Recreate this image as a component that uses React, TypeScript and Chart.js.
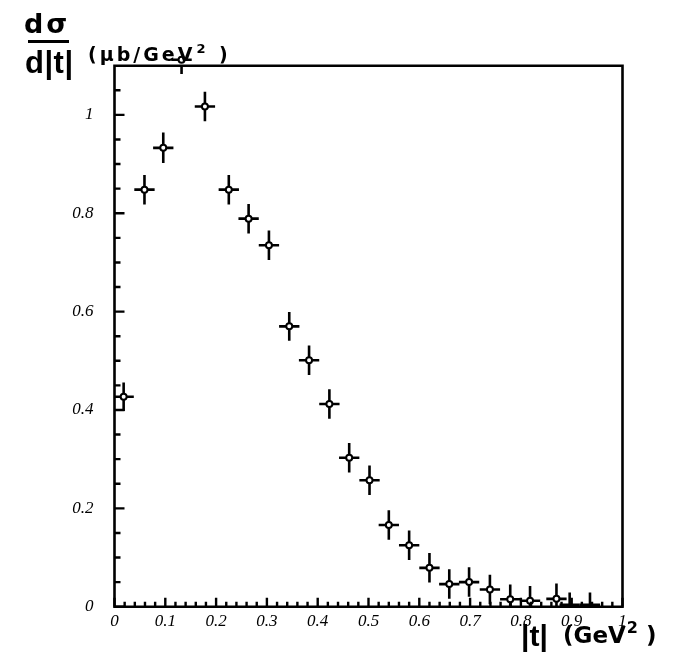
import React, { useEffect, useRef } from 'react';
import { Chart, registerables } from 'chart.js';

Chart.register(...registerables);

// |t| bin centres (GeV^2)
const tValues = [0.018, 0.059, 0.096, 0.132, 0.178, 0.225, 0.264, 0.304, 0.344, 0.383, 0.423, 0.462, 0.502, 0.540, 0.580, 0.620, 0.659, 0.698, 0.739, 0.779, 0.818, 0.870, 0.896, 0.936];
// dσ/d|t| (μb/GeV^2)
const dsigma = [0.427, 0.848, 0.933, 1.112, 1.017, 0.848, 0.789, 0.735, 0.570, 0.501, 0.412, 0.303, 0.257, 0.166, 0.125, 0.079, 0.046, 0.050, 0.035, 0.015, 0.012, 0.016, 0.004, 0.004];
// half bin widths
const tErr = [0.02, 0.02, 0.02, 0.02, 0.02, 0.02, 0.02, 0.02, 0.02, 0.02, 0.02, 0.02, 0.02, 0.02, 0.02, 0.02, 0.02, 0.02, 0.02, 0.02, 0.02, 0.02, 0.02, 0.02];
// statistical errors
const dsigmaErr = [0.029, 0.030, 0.031, 0.029, 0.030, 0.030, 0.030, 0.030, 0.029, 0.030, 0.030, 0.030, 0.030, 0.030, 0.030, 0.030, 0.030, 0.030, 0.030, 0.030, 0.030, 0.031, 0.025, 0.025];

const xTickValues = [0, 0.1, 0.2, 0.3, 0.4, 0.5, 0.6, 0.7, 0.8, 0.9, 1];
const xTickLabels = ['0', '0.1', '0.2', '0.3', '0.4', '0.5', '0.6', '0.7', '0.8', '0.9', '1'];
const yTickValues = [0, 0.2, 0.4, 0.6, 0.8, 1];
const yTickLabels = ['0', '0.2', '0.4', '0.6', '0.8', '1'];
const xMinorStep = 0.02;
const yMinorStep = 0.05;

const X_MIN = 0;
const X_MAX = 1;
const Y_MIN = 0;
const Y_MAX = 1.1;

function drawText(ctx: any, text: string, x: number, y: number, spacing: number) {
  ctx.letterSpacing = spacing + 'px';
  ctx.fillText(text, x, y);
  const w = ctx.measureText(text).width;
  ctx.letterSpacing = '0px';
  return w;
}

const errorBarsPlugin = {
  id: 'errorBars',
  beforeDatasetsDraw(chart: any) {
    const { ctx, chartArea } = chart;
    const xs = chart.scales.x;
    const ys = chart.scales.y;
    ctx.save();
    ctx.strokeStyle = '#000';
    ctx.lineWidth = 2.6;
    ctx.lineCap = 'butt';
    for (let i = 0; i < tValues.length; i++) {
      const px = xs.getPixelForValue(tValues[i]);
      const py = ys.getPixelForValue(dsigma[i]);
      const x0 = xs.getPixelForValue(Math.max(X_MIN, tValues[i] - tErr[i]));
      const x1 = xs.getPixelForValue(tValues[i] + tErr[i]);
      let y0 = ys.getPixelForValue(dsigma[i] + dsigmaErr[i]);
      let y1 = ys.getPixelForValue(dsigma[i] - dsigmaErr[i]);
      y0 = Math.max(y0, chartArea.top);
      y1 = Math.min(y1, chartArea.bottom);
      ctx.beginPath();
      ctx.moveTo(x0, py);
      ctx.lineTo(x1, py);
      if (y1 > y0) {
        ctx.moveTo(px, y0);
        ctx.lineTo(px, y1);
      }
      ctx.stroke();
    }
    ctx.restore();
  },
  afterDatasetsDraw(chart: any) {
    const { ctx, chartArea } = chart;
    const xs = chart.scales.x;
    const ys = chart.scales.y;
    const { left, right, top, bottom } = chartArea;
    ctx.save();
    // markers that lie above the frame (Chart.js skips them)
    ctx.lineWidth = 2;
    ctx.strokeStyle = '#000';
    ctx.fillStyle = '#fff';
    for (let i = 0; i < tValues.length; i++) {
      if (dsigma[i] <= Y_MAX) continue;
      const px = xs.getPixelForValue(tValues[i]);
      const py = ys.getPixelForValue(dsigma[i]);
      ctx.beginPath();
      ctx.arc(px, py, 3, 0, Math.PI * 2);
      ctx.fill();
      ctx.stroke();
    }

    ctx.strokeStyle = '#000';
    ctx.lineWidth = 2.6;
    ctx.beginPath();
    ctx.rect(left, top, right - left, bottom - top);
    ctx.stroke();
    // y ticks (inward)
    ctx.lineWidth = 2.4;
    ctx.beginPath();
    for (let v = Y_MIN; v <= Y_MAX + 1e-9; v += yMinorStep) {
      const isMajor = yTickValues.some((m) => Math.abs(m - v) < 1e-6);
      const py = ys.getPixelForValue(v);
      if (py < top + 1) continue;
      ctx.moveTo(left, py);
      ctx.lineTo(left + (isMajor ? 10 : 6), py);
    }
    // x ticks (inward)
    for (let v = X_MIN; v <= X_MAX + 1e-9; v += xMinorStep) {
      const isMajor = xTickValues.some((m) => Math.abs(m - v) < 1e-6);
      const px = xs.getPixelForValue(v);
      ctx.moveTo(px, bottom);
      ctx.lineTo(px, bottom - (isMajor ? 9 : 5));
    }
    ctx.stroke();

    // axis titles
    ctx.fillStyle = '#000';
    ctx.textBaseline = 'alphabetic';
    ctx.textAlign = 'left';
    ctx.font = 'bold 27px "DejaVu Sans"';
    drawText(ctx, 'dσ', 24, 33, 3);
    ctx.fillRect(28, 40, 41, 3);
    ctx.font = 'bold 31px "Liberation Sans"';
    drawText(ctx, 'd|t|', 25, 73, 0.5);

    ctx.font = 'bold 19px "DejaVu Sans"';
    let x = 88;
    x += drawText(ctx, '(μb/GeV', x, 61, 3);
    ctx.font = 'bold 13px "DejaVu Sans"';
    x += drawText(ctx, '2', x + 1, 53, 0) + 1;
    ctx.font = 'bold 19px "DejaVu Sans"';
    drawText(ctx, ' )', x + 4, 61, 3);

    ctx.font = 'bold 30px "Liberation Sans"';
    ctx.fillText('|t|', 521, 646);
    ctx.font = 'bold 23px "DejaVu Sans"';
    x = 563;
    x += drawText(ctx, '(GeV', x, 643, 0);
    ctx.font = 'bold 16px "DejaVu Sans"';
    x += drawText(ctx, '2', x + 1, 633, 0) + 1;
    ctx.font = 'bold 23px "DejaVu Sans"';
    drawText(ctx, ' )', x, 643, 0);
    ctx.restore();
  },
};

export default function App() {
  const canvasRef = useRef<HTMLCanvasElement | null>(null);

  useEffect(() => {
    const canvas = canvasRef.current;
    if (!canvas) return;
    const chart = new Chart(canvas, {
      type: 'scatter',
      data: {
        datasets: [
          {
            data: tValues.map((t, i) => ({ x: t, y: dsigma[i] })),
            showLine: false,
            pointStyle: 'circle',
            pointRadius: (c: any) => (dsigma[c.dataIndex] > 0.008 ? 3 : 0),
            pointBackgroundColor: '#fff',
            pointBorderColor: '#000',
            pointBorderWidth: 2,
            pointHoverRadius: 3,
            clip: false as any,
          },
        ],
      },
      options: {
        responsive: false,
        animation: false,
        events: [],
        layout: { padding: { left: 0, right: 56.5, top: 65.7, bottom: 0 } },
        plugins: {
          legend: { display: false },
          tooltip: { enabled: false },
          title: { display: false },
        },
        scales: {
          x: {
            type: 'linear',
            min: X_MIN,
            max: X_MAX,
            grid: { display: false },
            border: { display: false },
            afterFit: (s: any) => {
              s.height = 57.3;
            },
            afterBuildTicks: (s: any) => {
              s.ticks = xTickValues.map((v) => ({ value: v }));
            },
            ticks: {
              autoSkip: false,
              maxRotation: 0,
              padding: -3,
              color: '#000',
              font: { family: '"Liberation Serif"', style: 'italic', size: 17 },
              callback: (v: any) => {
                const i = xTickValues.findIndex((m) => Math.abs(m - Number(v)) < 1e-6);
                return i >= 0 ? xTickLabels[i] : '';
              },
            },
          },
          y: {
            type: 'linear',
            min: Y_MIN,
            max: Y_MAX,
            grid: { display: false },
            border: { display: false },
            afterFit: (s: any) => {
              s.width = 114.5;
            },
            afterBuildTicks: (s: any) => {
              s.ticks = yTickValues.map((v) => ({ value: v }));
            },
            ticks: {
              autoSkip: false,
              padding: 13,
              color: '#000',
              font: { family: '"Liberation Serif"', style: 'italic', size: 17 },
              callback: (v: any) => {
                const i = yTickValues.findIndex((m) => Math.abs(m - Number(v)) < 1e-6);
                return i >= 0 ? yTickLabels[i] : '';
              },
            },
          },
        },
      },
      plugins: [errorBarsPlugin],
    });
    return () => chart.destroy();
  }, []);

  return (
    <div style={{ position: 'absolute', left: 0, top: 0, width: 679, height: 664, background: '#fff' }}>
      <canvas ref={canvasRef} width={679} height={664} style={{ display: 'block' }} />
    </div>
  );
}
